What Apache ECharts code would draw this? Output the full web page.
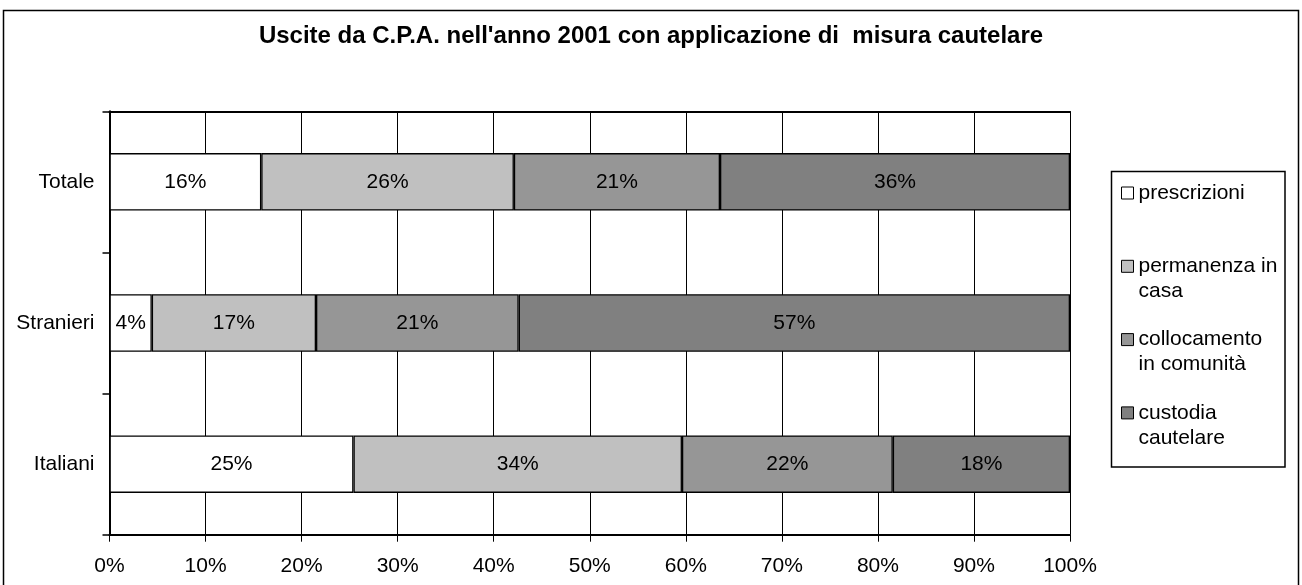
<!DOCTYPE html>
<html>
<head>
<meta charset="utf-8">
<script src="https://cdn.jsdelivr.net/npm/echarts@6/dist/echarts.min.js"></script>
<style>
  html, body { margin: 0; padding: 0; background: #fff; }
  #chart { width: 1302px; height: 585px; }
</style>
</head>
<body>
<div id="chart"></div>
<script>
// Categories, bottom to top
const categories = ['Italiani', 'Stranieri', 'Totale'];

// Share (%) of each measure per group, same order as categories
const prescrizioni = [25.4, 4.4, 15.8];
const permanenzaInCasa = [34.2, 17.1, 26.3];
const collocamentoInComunita = [21.95, 21.1, 21.46];
const custodiaCautelare = [18.45, 57.4, 36.44];

const seriesNames = ['prescrizioni', 'permanenza in casa', 'collocamento in comunità', 'custodia cautelare'];
const legendLines = [['prescrizioni'], ['permanenza in', 'casa'], ['collocamento', 'in comunità'], ['custodia', 'cautelare']];
const seriesValues = [prescrizioni, permanenzaInCasa, collocamentoInComunita, custodiaCautelare];
const seriesColors = ['#ffffff', '#c0c0c0', '#969696', '#808080'];

const xTicks = [0, 10, 20, 30, 40, 50, 60, 70, 80, 90, 100];

const FONT = "'Liberation Sans', Arial, sans-serif";

const chart = echarts.init(document.getElementById('chart'), null, { renderer: 'canvas' });

const series = seriesNames.map((name, i) => ({
  name: name,
  type: 'bar',
  stack: 'total',
  barWidth: 57.5,
  data: seriesValues[i],
  itemStyle: { color: seriesColors[i], borderColor: '#000', borderWidth: 1.3 },
  label: {
    show: true,
    position: 'inside',
    color: '#000',
    fontFamily: FONT,
    fontSize: 21,
    formatter: p => Math.round(p.value) + '%'
  },
  emphasis: { disabled: true }
}));

chart.setOption({
  animation: false,
  backgroundColor: '#fff',
  title: {
    text: "Uscite da C.P.A. nell'anno 2001 con applicazione di  misura cautelare",
    left: 'center',
    top: 19,
    textStyle: { fontFamily: FONT, fontSize: 24, fontWeight: 'bold', color: '#000' }
  },
  graphic: [
    {
      type: 'rect',
      shape: { x: 3.5, y: 10.5, width: 1295, height: 600 },
      style: { fill: 'none', stroke: '#000', lineWidth: 1.5 },
      silent: true
    },
    {
      type: 'rect',
      shape: { x: 1111.5, y: 171.5, width: 173.5, height: 295.5 },
      style: { fill: 'none', stroke: '#000', lineWidth: 1.5 },
      silent: true
    }
  ],
  legend: {
    orient: 'vertical',
    left: 1121,
    top: 155.5,
    padding: 0,
    itemGap: -1.7,
    icon: 'rect',
    itemWidth: 12,
    itemHeight: 12,
    itemStyle: { borderColor: '#000', borderWidth: 1 },
    selectedMode: false,
    data: seriesNames,
    formatter: name => {
      const lines = legendLines[seriesNames.indexOf(name)];
      return [' '].concat(lines, lines.length < 2 ? [' '] : []).join('\n');
    },
    textStyle: { fontFamily: FONT, fontSize: 21, color: '#000', lineHeight: 25 }
  },
  grid: { left: 109.5, right: 232, top: 111.3, bottom: 50.3, containLabel: false },
  xAxis: [
    {
      type: 'value',
      min: xTicks[0],
      max: xTicks[xTicks.length - 1],
      interval: 10,
      position: 'bottom',
      axisLine: { show: true, lineStyle: { color: '#000', width: 2 } },
      axisTick: { show: true, length: 7, lineStyle: { color: '#000', width: 1 } },
      axisLabel: { formatter: '{value}%', color: '#000', fontFamily: FONT, fontSize: 21, margin: 21 },
      splitLine: { show: true, lineStyle: { color: '#000', width: 1 } }
    },
    {
      type: 'value',
      min: xTicks[0],
      max: xTicks[xTicks.length - 1],
      position: 'top',
      axisLine: { show: true, lineStyle: { color: '#000', width: 2 } },
      axisTick: { show: false },
      axisLabel: { show: false },
      splitLine: { show: false }
    }
  ],
  yAxis: {
    type: 'category',
    data: categories,
    axisLine: { show: true, lineStyle: { color: '#000', width: 2 } },
    axisTick: { show: true, length: 7, lineStyle: { color: '#000', width: 1.5 } },
    axisLabel: { color: '#000', fontFamily: FONT, fontSize: 21, margin: 15 },
    splitLine: { show: false }
  },
  series: series
});
</script>
</body>
</html>
